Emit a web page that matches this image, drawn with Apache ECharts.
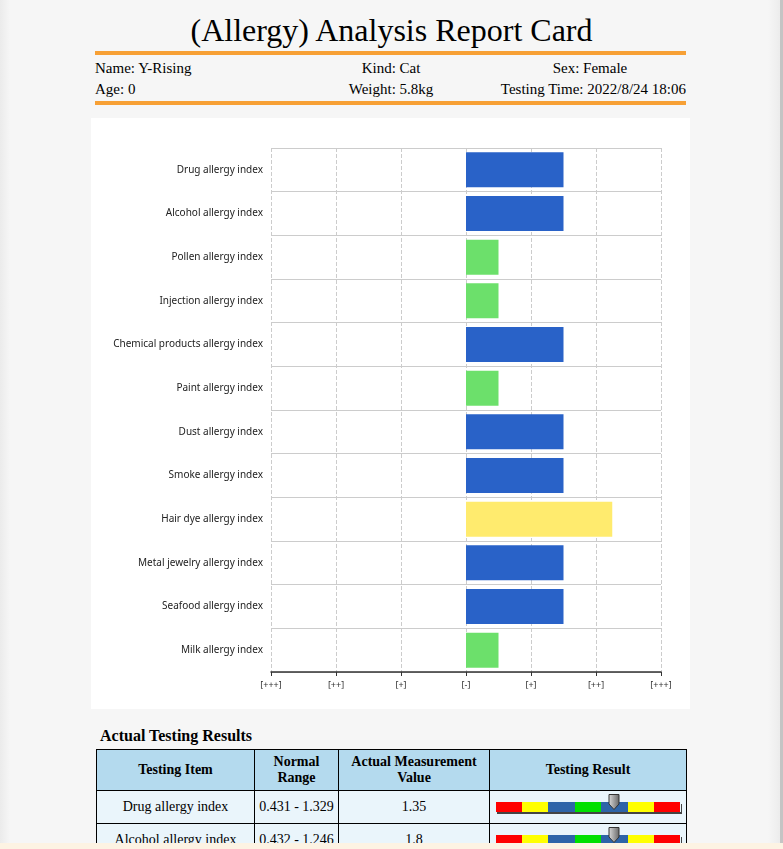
<!DOCTYPE html>
<html>
<head>
<meta charset="utf-8">
<script src="https://cdn.jsdelivr.net/npm/echarts@6/dist/echarts.min.js"></script>
<style>
  html, body { margin:0; padding:0; }
  body { width:783px; height:849px; overflow:hidden; background:#f6f6f6; position:relative; font-family:"Liberation Serif","Times New Roman",serif; color:#000; }
  .leftshade { position:absolute; left:0; top:0; width:10px; height:849px; background:linear-gradient(to right,#ebebeb,#f6f6f6); }
  .rightshade { position:absolute; right:3px; top:0; width:12px; height:849px; background:linear-gradient(to right,#f6f6f6,#ececec); }
  .rightbar { position:absolute; right:0; top:0; width:3px; height:849px; background:#c4c4c4; }
  .title { position:absolute; left:0; width:783px; top:10px; text-align:center; font-size:32px; line-height:40px; }
  .oline { position:absolute; left:95px; width:591px; height:4px; background:#f7a035; }
  .info { position:absolute; font-size:15px; line-height:18px; white-space:nowrap; }
  #chart { position:absolute; left:91px; top:118px; width:599px; height:591px; background:#fff; }
  .sub { position:absolute; left:100px; top:727px; font-size:16px; font-weight:bold; }
  table.res { position:absolute; left:96px; top:749px; border-collapse:collapse; font-size:14px; }
  table.res td, table.res th { border:1px solid #000; text-align:center; padding:0; }
  table.res th { background:#b4daee; font-weight:bold; height:40px; line-height:16px; }
  table.res td { background:#eaf5fb; height:32px; }
  .scale { position:relative; width:185px; height:10px; margin:0 auto; display:flex; box-shadow:1px 2px 0 #444; }
  .scale span { flex:1; height:10px; }
  .ptr { position:absolute; top:-8px; width:12px; height:16px; }
  .footer { position:absolute; left:0; bottom:0; width:783px; height:6px; background:#fdf3e3; }
</style>
</head>
<body>
<div class="leftshade"></div>
<div class="rightshade"></div>
<div class="rightbar"></div>
<div class="title">(Allergy) Analysis Report Card</div>
<div class="oline" style="top:51px"></div>
<div class="info" style="left:95px;top:59px">Name: Y-Rising</div>
<div class="info" style="left:291px;width:200px;text-align:center;top:59px">Kind: Cat</div>
<div class="info" style="left:490px;width:200px;text-align:center;top:59px">Sex: Female</div>
<div class="info" style="left:95px;top:80px">Age: 0</div>
<div class="info" style="left:291px;width:200px;text-align:center;top:80px">Weight: 5.8kg</div>
<div class="info" style="left:486px;width:200px;text-align:right;top:80px">Testing Time: 2022/8/24 18:06</div>
<div class="oline" style="top:101px"></div>
<div id="chart"></div>
<div class="sub">Actual Testing Results</div>
<table class="res" id="tbl"></table>
<div class="footer"></div>
<script>
// ---- data ----
var categories = ['Drug allergy index','Alcohol allergy index','Pollen allergy index','Injection allergy index','Chemical products allergy index','Paint allergy index','Dust allergy index','Smoke allergy index','Hair dye allergy index','Metal jewelry allergy index','Seafood allergy index','Milk allergy index'];
var values = [1.5, 1.5, 0.5, 0.5, 1.5, 0.5, 1.5, 1.5, 2.25, 1.5, 1.5, 0.5];
var tickLabels = ['[+++]','[++]','[+]','[-]','[+]','[++]','[+++]'];
var tableItems = ['Drug allergy index','Alcohol allergy index'];
var normalRanges = ['0.431 - 1.329','0.432 - 1.246'];
var measured = ['1.35','1.8'];
var resultLevel = [4, 4];   // segment index of pointer (0..6)

// ---- styles ----
function barColor(v){ return v >= 2 ? '#ffeb6e' : (v >= 1 ? '#2962c8' : '#6ce06b'); }
var segColors = ['#ff0000','#ffff00','#2e64a8','#00e000','#2e64a8','#ffff00','#ff0000'];

var chart = echarts.init(document.getElementById('chart'), null, {renderer:'canvas'});
chart.setOption({
  animation:false,
  grid:{ left:180, right:29, top:30, bottom:37 },
  xAxis:{
    type:'value', min:-3, max:3, interval:1,
    axisLine:{ show:true, lineStyle:{ color:'#333', width:1.5 } },
    axisTick:{ show:true, length:4, lineStyle:{ color:'#333' } },
    axisLabel:{ fontSize:9, color:'#333', margin:9, fontFamily:'Noto Sans',
      formatter:function(v){ return tickLabels[Math.round(v)+3]; } },
    splitLine:{ show:true, lineStyle:{ type:'dashed', color:'#ccc' } }
  },
  yAxis:{
    type:'category', data:categories, inverse:true,
    axisLine:{ show:false }, axisTick:{ show:false },
    axisLabel:{ fontSize:10, color:'#222', margin:8, fontFamily:'Noto Sans', padding:[2,0,0,0] },
    splitLine:{ show:true, lineStyle:{ color:'#ccc' } }
  },
  series:[{
    type:'bar', barWidth:'80%',
    data: values.map(function(v){ return { value:v, itemStyle:{ color:barColor(v) } }; })
  }]
});

// table
var tbl = document.getElementById('tbl');
var html = '<colgroup><col style="width:158px"><col style="width:84px"><col style="width:151px"><col style="width:197px"></colgroup>';
html += '<tr><th>Testing Item</th><th>Normal<br>Range</th><th>Actual Measurement<br>Value</th><th>Testing Result</th></tr>';
for (var i=0;i<tableItems.length;i++){
  var segs = segColors.map(function(c){ return '<span style="background:'+c+'"></span>'; }).join('');
  var left = (resultLevel[i] + 0.5) / 7 * 185 - 6;
  var ptr = '<svg class="ptr" style="left:'+left+'px" viewBox="0 0 12 16"><defs><linearGradient id="g'+i+'" x1="0" x2="1"><stop offset="0" stop-color="#d8d8d8"/><stop offset="0.5" stop-color="#a0a0a0"/><stop offset="1" stop-color="#6a6a6a"/></linearGradient></defs><path d="M1 0.5 H11 V10 L6 15.5 L1 10 Z" fill="url(#g'+i+')" stroke="#333" stroke-width="1"/></svg>';
  html += '<tr><td>'+tableItems[i]+'</td><td>'+normalRanges[i]+'</td><td>'+measured[i]+'</td><td><div class="scale">'+segs+ptr+'</div></td></tr>';
}
tbl.innerHTML = html;
</script>
</body>
</html>
